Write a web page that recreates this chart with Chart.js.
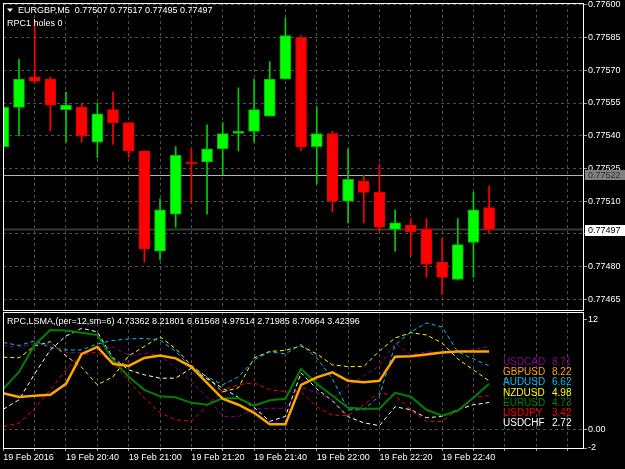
<!DOCTYPE html>
<html>
<head>
<meta charset="utf-8">
<script src="https://cdn.jsdelivr.net/npm/chart.js@4.4.0/dist/chart.umd.min.js"></script>
<style>
  html, body { margin: 0; padding: 0; background: #000; }
  #wrap { position: relative; width: 625px; height: 469px; overflow: hidden; background: #000; }
  canvas { position: absolute; left: 0; }
  #priceChart { top: 0; }
  #rpcChart { top: 311px; }
</style>
</head>
<body>
<div id="wrap">
  <canvas id="priceChart" width="625" height="311"></canvas>
  <canvas id="rpcChart" width="625" height="158"></canvas>
</div>
<script>
// EURGBP M5 bars
var symbolName = 'EURGBP,M5';
var dateLabel = '19 Feb';
var firstDateLabel = '19 Feb 2016';
var times = ['20:20','20:25','20:30','20:35','20:40','20:45','20:50','20:55','21:00','21:05','21:10','21:15','21:20','21:25','21:30','21:35',
             '21:40','21:45','21:50','21:55','22:00','22:05','22:10','22:15','22:20','22:25','22:30','22:35','22:40','22:45','22:50','22:55'];
var opens  = [0.77535,0.77553,0.77567,0.77566,0.77552,0.77553,0.77537,0.77552,0.77546,0.77533,0.77487,0.77504,0.77528,0.77528,0.77534,0.77541,
              0.77542,0.77549,0.77566,0.77585,0.77535,0.77541,0.77510,0.77519,0.77514,0.77497,0.77499,0.77497,0.77482,0.77474,0.77491,0.77507];
var highs  = [0.77561,0.77575,0.77593,0.77567,0.77560,0.77555,0.77555,0.77560,0.77546,0.77533,0.77511,0.77535,0.77534,0.77545,0.77546,0.77562,
              0.77566,0.77574,0.77594,0.77586,0.77553,0.77542,0.77534,0.77522,0.77527,0.77506,0.77502,0.77502,0.77493,0.77502,0.77514,0.77517];
var lows   = [0.77531,0.77540,0.77564,0.77542,0.77537,0.77537,0.77530,0.77536,0.77530,0.77482,0.77483,0.77498,0.77509,0.77504,0.77522,0.77533,
              0.77537,0.77549,0.77566,0.77533,0.77518,0.77505,0.77500,0.77500,0.77496,0.77487,0.77485,0.77475,0.77467,0.77474,0.77475,0.77495];
var closes = [0.77553,0.77566,0.77565,0.77554,0.77554,0.77540,0.77550,0.77546,0.77533,0.77488,0.77506,0.77531,0.77527,0.77534,0.77541,0.77542,
              0.77552,0.77566,0.77586,0.77535,0.77541,0.77510,0.77520,0.77514,0.77498,0.77500,0.77496,0.77481,0.77475,0.77490,0.77506,0.77497];
var priceTicks = [0.77600,0.77585,0.77570,0.77555,0.77540,0.77525,0.77510,0.77495,0.77480,0.77465];
var hLineLevel = 0.77522;
var bidLevel = 0.77497;
var indicatorTitle = 'RPC1 holes 0';

// RPC LSMA panel
var rpcTitle = 'RPC,LSMA,(per=12,sm=6)';
var rpcHeaderValues = ['4.73362','8.21801','6.61568','4.97514','2.71985','8.70664','3.42396'];
var eurusd = [4.47,6.32,9.27,10.91,10.85,10.61,10.36,7.63,5.78,4.36,3.65,3.54,2.94,2.73,3.44,3.44,2.62,3.22,3.38,6.65,5.02,3.71,2.40,2.29,2.29,4.03,3.60,2.18,1.53,2.07,3.49,5.02];
var gbpusd = [3.98,3.57,3.71,3.82,5.02,8.29,9.05,7.20,6.98,7.85,8.12,7.80,6.87,5.13,3.38,2.73,1.85,0.60,0.60,4.91,5.73,6.27,5.34,5.18,5.34,7.99,8.02,8.23,8.45,8.54,8.54,8.54];
var audusd = [9.54,9.21,9.71,9.00,8.72,8.72,9.38,9.76,9.92,9.98,9.81,8.56,6.76,5.81,4.91,5.78,7.63,8.51,8.29,9.32,7.85,5.56,2.18,2.18,3.71,9.27,10.69,11.67,11.23,8.51,7.74,6.98];
var nzdusd = [7.93,7.85,9.16,9.63,8.07,6.82,4.91,5.78,8.07,9.11,10.17,8.83,7.03,5.73,4.14,4.58,7.85,8.56,8.67,9.16,8.29,7.09,6.90,6.90,8.61,10.03,10.61,10.36,9.49,7.74,6.54,5.34];
var usdchf = [2.24,3.27,6.11,8.72,10.25,11.09,10.69,7.85,6.54,6.00,5.64,5.64,6.73,5.56,4.55,3.54,2.45,0.91,1.45,6.22,4.47,3.16,1.42,0.76,0.44,2.51,2.18,1.31,1.45,2.18,2.73,2.98];
var usdcad = [9.21,9.05,9.41,9.38,8.45,8.40,9.05,9.05,8.12,8.36,8.12,6.76,5.27,3.54,1.47,1.42,2.29,2.34,2.34,4.63,4.03,3.27,4.80,5.89,6.98,9.43,8.18,8.51,8.45,8.54,8.78,9.11];
var usdjpy = [0.36,0.73,2.29,4.36,6.54,8.18,8.51,7.31,5.34,3.46,1.85,1.09,0.93,2.62,4.36,4.91,5.13,4.36,4.18,4.14,2.51,1.58,1.53,2.73,4.03,3.71,2.18,0.91,0.91,2.18,3.57,3.71];
var legendNames  = ['USDCAD','GBPUSD','AUDUSD','NZDUSD','EURUSD','USDJPY','USDCHF'];
var legendValues = ['8.71','8.22','6.62','4.98','4.73','3.42','2.72'];
var legendColors = ['#8b008b','#ffa500','#00bfff','#ffff00','#008000','#ff0000','#ffffff'];
var rpcTicks = [12, 0, -2];
var rpcTickLabels = ['12', '0.00', '-2'];

var FONT = "'Liberation Sans', Arial, sans-serif";
Chart.defaults.font.family = FONT;
Chart.defaults.font.size = 9;
Chart.defaults.color = '#ffffff';

var GRID = '#4f4f4f';
var X_MIN = -0.02, X_MAX = 36.99;

function xGridTicks() {
    var t = [];
    for (var i = 0; i <= 36; i += 2) t.push({ value: i });
    return t;
}

// no extra room for half labels, the panels sit edge to edge
function noPad(s) {
    s.paddingTop = 0;
    s.paddingBottom = 0;
    s.paddingLeft = 0;
    s.paddingRight = 0;
}

function drawFrame(chart) {
    var ctx = chart.ctx, a = chart.chartArea;
    ctx.save();
    ctx.strokeStyle = '#ffffff';
    ctx.lineWidth = 1;
    ctx.strokeRect(a.left + 0.5, a.top + 0.5, a.right - a.left, a.bottom - a.top);
    ctx.restore();
}

// ---------- price panel ----------
var upColor = '#00ff00', downColor = '#ff0000';
var isUp = closes.map(function (c, i) { return c >= opens[i]; });

var priceDecor = {
    id: 'priceDecor',
    beforeDatasetsDraw: function (chart) {
        var ctx = chart.ctx, a = chart.chartArea, y = chart.scales.y;
        ctx.save();
        var py = Math.round(y.getPixelForValue(hLineLevel)) + 0.5;
        ctx.strokeStyle = '#b4b4b4';
        ctx.lineWidth = 1;
        ctx.beginPath(); ctx.moveTo(a.left, py); ctx.lineTo(a.right, py); ctx.stroke();
        py = Math.round(y.getPixelForValue(bidLevel)) + 0.5;
        ctx.strokeStyle = '#3a3a3a';
        ctx.lineWidth = 2;
        ctx.beginPath(); ctx.moveTo(a.left, py); ctx.lineTo(a.right, py); ctx.stroke();
        ctx.restore();
    },
    afterDraw: function (chart) {
        var ctx = chart.ctx, a = chart.chartArea, y = chart.scales.y;
        drawFrame(chart);
        ctx.save();
        ctx.font = '9px ' + FONT;
        ctx.textBaseline = 'middle';
        // price labels of the lines
        var py = y.getPixelForValue(hLineLevel);
        ctx.fillStyle = '#808080';
        ctx.fillRect(a.right + 2, Math.round(py) - 5, 40, 10);
        ctx.fillStyle = '#303030';
        ctx.fillText(hLineLevel.toFixed(5), a.right + 5, py + 0.5);
        py = y.getPixelForValue(bidLevel);
        ctx.fillStyle = '#ffffff';
        ctx.fillRect(a.right + 2, Math.round(py) - 4, 40, 11);
        ctx.fillStyle = '#000000';
        ctx.fillText(bidLevel.toFixed(5), a.right + 5, py + 1.5);
        // header
        ctx.fillStyle = '#ffffff';
        ctx.beginPath();
        ctx.moveTo(7, 8.5); ctx.lineTo(13, 8.5); ctx.lineTo(10, 12); ctx.closePath();
        ctx.fill();
        var last = closes.length - 1;
        ctx.fillText(symbolName + '  ' + opens[last].toFixed(5) + ' ' + highs[last].toFixed(5) + ' ' +
            lows[last].toFixed(5) + ' ' + closes[last].toFixed(5), 18, 10.5);
        ctx.fillText(indicatorTitle, 7, 23.5);
        ctx.restore();
    }
};

new Chart(document.getElementById('priceChart'), {
    type: 'bar',
    data: {
        datasets: [{
            label: 'body',
            data: times.map(function (t, i) { return { x: i, y: [opens[i], closes[i]] }; }),
            backgroundColor: isUp.map(function (u) { return u ? upColor : downColor; }),
            borderColor: isUp.map(function (u) { return u ? '#00b400' : '#e00000'; }),
            borderWidth: 1,
            borderSkipped: false,
            barThickness: 11,
            grouped: false,
            order: 0
        }, {
            label: 'wick',
            data: times.map(function (t, i) { return { x: i, y: [lows[i], highs[i]] }; }),
            backgroundColor: isUp.map(function (u) { return u ? '#00d000' : downColor; }),
            borderWidth: 0,
            barThickness: 1,
            grouped: false,
            order: 1
        }]
    },
    options: {
        responsive: false,
        animation: false,
        devicePixelRatio: 1,
        layout: { padding: { left: 3, top: 3, bottom: 1, right: 0 } },
        plugins: { legend: { display: false }, tooltip: { enabled: false } },
        scales: {
            x: {
                type: 'linear',
                min: X_MIN,
                max: X_MAX,
                offset: false,
                afterBuildTicks: function (s) { s.ticks = xGridTicks(); },
                afterFit: function (s) { s.height = 0; noPad(s); },
                ticks: { display: false },
                grid: { color: GRID, drawTicks: false, offset: false },
                border: { display: false, dash: [3, 3] }
            },
            y: {
                position: 'right',
                min: 0.774600,
                max: 0.776009,
                afterBuildTicks: function (s) { s.ticks = priceTicks.map(function (v) { return { value: v }; }); },
                afterFit: function (s) { s.width = 42; noPad(s); },
                ticks: {
                    padding: 1,
                    color: '#ffffff',
                    font: { size: 9 },
                    callback: function (v) { return v.toFixed(5); }
                },
                grid: { color: GRID, tickColor: '#a0a0a0', tickLength: 4, tickBorderDash: [] },
                border: { display: false, dash: [3, 3] }
            }
        }
    },
    plugins: [priceDecor]
});

// ---------- RPC panel ----------
function series(arr) {
    return arr.map(function (v, i) { return { x: i, y: v }; });
}

var rpcDecor = {
    id: 'rpcDecor',
    afterDraw: function (chart) {
        var ctx = chart.ctx;
        drawFrame(chart);
        ctx.save();
        ctx.font = '9px ' + FONT;
        ctx.textBaseline = 'middle';
        ctx.fillStyle = '#ffffff';
        ctx.fillText(rpcTitle + ' ' + rpcHeaderValues.join(' '), 7, 10.5);
        ctx.font = '10px ' + FONT;
        for (var i = 0; i < legendNames.length; i++) {
            ctx.fillStyle = legendColors[i];
            ctx.fillText(legendNames[i], 503, 51.5 + i * 10.1);
            ctx.fillText(legendValues[i], 552, 51.5 + i * 10.1);
        }
        ctx.restore();
    }
};

var dashed = { borderWidth: 1, borderDash: [4, 3], pointRadius: 0, tension: 0, fill: false, order: 3 };

function lineSet(label, arr, color, extra) {
    var ds = { label: label, data: series(arr), borderColor: color };
    var base = extra || dashed;
    for (var k in base) ds[k] = base[k];
    return ds;
}

new Chart(document.getElementById('rpcChart'), {
    type: 'line',
    data: {
        datasets: [
            lineSet('USDCAD', usdcad, '#8b008b'),
            lineSet('AUDUSD', audusd, '#00bfff'),
            lineSet('NZDUSD', nzdusd, '#ffff00'),
            lineSet('USDJPY', usdjpy, '#ff0000'),
            lineSet('USDCHF', usdchf, '#ffffff'),
            lineSet('EURUSD', eurusd, '#008000', { borderWidth: 2, pointRadius: 0, tension: 0, fill: false, order: 2 }),
            lineSet('GBPUSD', gbpusd, '#ffa500', { borderWidth: 2.5, pointRadius: 0, tension: 0, fill: false, order: 1 })
        ]
    },
    options: {
        responsive: false,
        animation: false,
        devicePixelRatio: 1,
        layout: { padding: { left: 3, top: 1, bottom: 0, right: 0 } },
        plugins: { legend: { display: false }, tooltip: { enabled: false } },
        scales: {
            x: {
                type: 'linear',
                min: X_MIN,
                max: X_MAX,
                offset: false,
                afterBuildTicks: function (s) { s.ticks = xGridTicks(); },
                afterFit: function (s) { s.height = 21; noPad(s); },
                ticks: {
                    autoSkip: false,
                    maxRotation: 0,
                    align: 'start',
                    padding: 1,
                    color: '#ffffff',
                    font: { size: 9 },
                    callback: function (v) {
                        if (v === 0) return firstDateLabel;
                        if (v % 4 === 0 && v < times.length) return dateLabel + ' ' + times[v];
                        return '';
                    }
                },
                grid: { color: GRID, tickColor: '#a0a0a0', tickLength: 3, tickBorderDash: [], offset: false },
                border: { display: false, dash: [3, 3] }
            },
            y: {
                position: 'right',
                min: -2,
                max: 12.87,
                afterBuildTicks: function (s) { s.ticks = rpcTicks.map(function (v) { return { value: v }; }); },
                afterFit: function (s) { s.width = 42; noPad(s); },
                ticks: {
                    padding: 1,
                    color: '#ffffff',
                    font: { size: 9 },
                    callback: function (v) { return rpcTickLabels[rpcTicks.indexOf(v)]; }
                },
                grid: {
                    color: function (c) { return c.tick && c.tick.value === 0 ? GRID : 'rgba(0,0,0,0)'; },
                    tickColor: '#a0a0a0', tickLength: 4, tickBorderDash: []
                },
                border: { display: false, dash: [3, 3] }
            }
        }
    },
    plugins: [rpcDecor]
});
</script>
</body>
</html>
